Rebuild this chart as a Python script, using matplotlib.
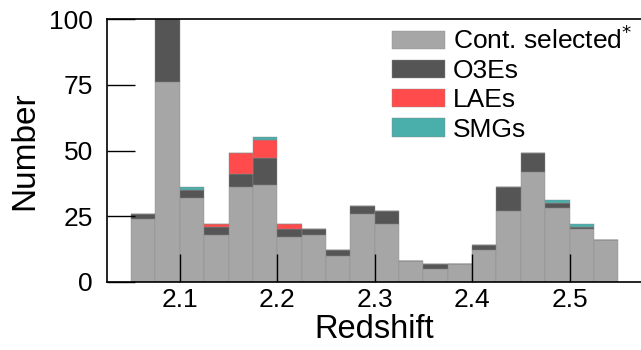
import matplotlib.pyplot as plt
import numpy as np

plt.rcParams['font.family'] = ['Liberation Sans', 'DejaVu Sans']

# Redshift bins (width 0.025) and counts per sample
bin_edges = np.round(np.arange(2.05, 2.5501, 0.025), 3)
cont_selected = [24, 76, 32, 18, 36, 37, 17, 18, 10, 26,
                 22, 8, 5, 7, 12, 27, 42, 28, 20, 16]
o3es = [2, 24, 3, 3, 5, 10, 3, 2, 2, 3,
        5, 0, 2, 0, 2, 9, 7, 2, 1, 0]
laes = [0, 0, 0, 1, 8, 7, 2, 0, 0, 0,
        0, 0, 0, 0, 0, 0, 0, 0, 0, 0]
smgs = [0, 0, 1, 0, 0, 1, 0, 0, 0, 0,
        0, 0, 0, 0, 0, 0, 0, 1, 1, 0]

labels = ['Cont. selected$^{*}$', 'O3Es', 'LAEs', 'SMGs']
colors = ['#a6a6a6', '#555555', '#ff4b4b', '#4aaeaa']

centers = 0.5 * (bin_edges[:-1] + bin_edges[1:])

fig = plt.figure(figsize=(6.41, 3.5), dpi=100)
ax = fig.add_axes([0.1665, 0.1943, 0.836, 0.7514])

ax.hist([centers] * 4, bins=bin_edges,
        weights=[cont_selected, o3es, laes, smgs],
        stacked=True, color=colors, label=labels,
        edgecolor='#8c8c8c', linewidth=0.3)

ax.set_xlim(2.025, 2.575)
ax.set_ylim(0, 100)
ax.set_xticks([2.1, 2.2, 2.3, 2.4, 2.5])
ax.set_yticks([0, 25, 50, 75, 100])
ax.tick_params(direction='in', length=20, width=1, labelsize=19)
ax.tick_params(axis='x', pad=4)
ax.tick_params(axis='y', pad=10)
for s in ax.spines.values():
    s.set_linewidth(1.2)

ax.set_xlabel('Redshift', fontsize=23.5, labelpad=2)
ax.set_ylabel('Number', fontsize=24, labelpad=6)

ax.legend(loc='upper left', bbox_to_anchor=(0.513, 1.016), frameon=False,
          fontsize=19, handlelength=2.0, handleheight=0.68,
          handletextpad=0.3, labelspacing=0.2, borderaxespad=0)

fig.savefig('out.png', dpi=100)
